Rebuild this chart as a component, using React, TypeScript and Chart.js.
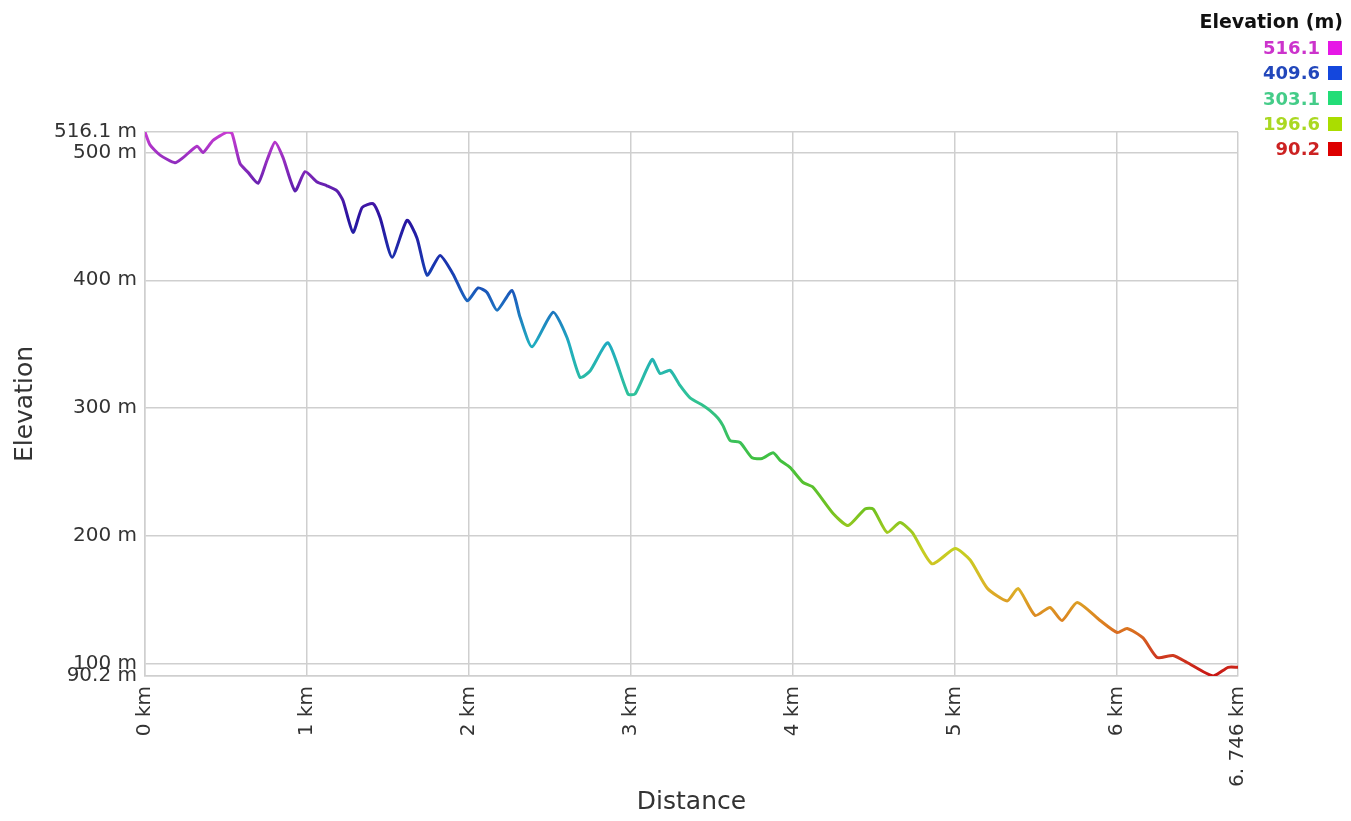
import React, { useEffect, useRef } from "react";
import { Chart, registerables } from "chart.js";

Chart.register(...registerables);

// Distance along the route (km)
const distancesKm = [
  0.0, 0.031, 0.093, 0.185, 0.235, 0.321, 0.358, 0.42, 0.506, 0.537, 0.586, 0.636, 0.698, 0.753,
  0.802, 0.852, 0.926, 0.988, 1.062, 1.123, 1.185, 1.222, 1.284, 1.34, 1.407, 1.451, 1.525, 1.617,
  1.679, 1.741, 1.821, 1.901, 1.988, 2.056, 2.111, 2.173, 2.265, 2.315, 2.389, 2.519, 2.605, 2.685,
  2.747, 2.858, 2.981, 3.025, 3.13, 3.179, 3.241, 3.302, 3.364, 3.444, 3.488, 3.537, 3.568, 3.611,
  3.673, 3.747, 3.809, 3.877, 3.92, 3.981, 4.062, 4.123, 4.247, 4.34, 4.444, 4.494, 4.58, 4.66,
  4.735, 4.858, 5.0, 5.093, 5.198, 5.321, 5.389, 5.494, 5.586, 5.66, 5.753, 5.895, 6.0, 6.062,
  6.16, 6.247, 6.346, 6.432, 6.593, 6.685, 6.746,
];

// Elevation (m)
const elevationsM = [
  516.1, 506, 498, 492, 496, 505, 500, 509.5, 516, 515, 491.5, 484.5, 476, 494,
  508, 496, 470, 485, 477, 474, 470, 462.5, 437.5, 457, 460, 449, 418, 447,
  433, 404, 419.5, 405, 384, 394, 390.5, 376.5, 392, 371, 348, 375, 355, 324,
  329, 351, 311, 311, 338, 327, 329.5, 317.7, 308, 302, 298, 292, 286, 274.6,
  273, 261, 260.5, 265, 259, 253.5, 241.7, 238, 217.5, 208, 221, 221, 202.6, 210.4,
  202.6, 178, 190, 181, 159, 149, 158.7, 137.6, 143.9, 133.7, 147.8, 133.7, 124.3, 127.4,
  120, 104.7, 106.3, 100.8, 90.2, 97, 97,
];

const yTickValues = [90.2, 100, 200, 300, 400, 500, 516.1];
const xTickValues = [0, 1, 2, 3, 4, 5, 6, 6.746];
const xTickLabels = ["0 km", "1 km", "2 km", "3 km", "4 km", "5 km", "6 km", "6. 746 km"];

const legendValues = ["516.1", "409.6", "303.1", "196.6", "90.2"];
const legendTextColors = ["#cc33cc", "#2247bb", "#44cc88", "#aad822", "#cc2222"];
const legendSwatchColors = ["#e617e6", "#1447dd", "#22dd77", "#aadd00", "#dd0000"];

const elevMin = 90.2;
const elevMax = 516.1;

const gradientStops: [number, string][] = [
  [516.1, "#c83cd2"],
  [480, "#7424b4"],
  [450, "#2a12a0"],
  [410, "#1838b0"],
  [380, "#1c6cc0"],
  [350, "#20acc0"],
  [310, "#2ec29a"],
  [260, "#40c040"],
  [220, "#72c220"],
  [190, "#c4d020"],
  [160, "#dcb428"],
  [130, "#dc7c20"],
  [110, "#d04422"],
  [90.2, "#c81414"],
];

const FONT = "'DejaVu Sans', Arial, sans-serif";

export default function App() {
  const ref = useRef<HTMLCanvasElement>(null);

  useEffect(() => {
    const canvas = ref.current!;
    const chart = new Chart(canvas, {
      type: "line",
      data: {
        datasets: [
          {
            data: distancesKm.map((d, i) => ({ x: d, y: elevationsM[i] })),
            borderColor: (c: any) => {
              const ch = c.chart;
              if (!ch.chartArea) return "#888";
              const ys = ch.scales.y;
              const top = ys.getPixelForValue(elevMax);
              const bottom = ys.getPixelForValue(elevMin);
              const g = ch.ctx.createLinearGradient(0, top, 0, bottom);
              gradientStops.forEach(([v, col]) => {
                const f = Math.min(1, Math.max(0, (elevMax - v) / (elevMax - elevMin)));
                g.addColorStop(f, col);
              });
              return g;
            },
            borderWidth: 3,
            pointRadius: 0,
            tension: 0.2,
            fill: false,
          },
        ],
      },
      options: {
        animation: false,
        responsive: false,
        devicePixelRatio: 1,
        layout: { padding: { top: 132, right: 113, left: 0, bottom: 0 } },
        plugins: { legend: { display: false }, tooltip: { enabled: false } },
        scales: {
          x: {
            type: "linear",
            min: 0,
            max: 6.746,
            afterBuildTicks: (s: any) => {
              s.ticks = xTickValues.map((v) => ({ value: v }));
            },
            afterFit: (s: any) => {
              s.height = 145;
            },
            ticks: {
              autoSkip: false,
              minRotation: 90,
              maxRotation: 90,
              padding: 10,
              color: "#333",
              font: { family: FONT, size: 20 },
              callback: (v: any) => {
                const i = xTickValues.indexOf(Number(v));
                return i >= 0 ? xTickLabels[i] : "";
              },
            },
            grid: { color: "#cfcfcf", lineWidth: 1.5, drawTicks: false },
            border: { color: "#cfcfcf", width: 1.5 },
            title: {
              display: true,
              text: "Distance",
              color: "#333",
              font: { family: FONT, size: 25 },
              padding: { top: 0, bottom: 4 },
            },
          },
          y: {
            type: "linear",
            min: elevMin,
            max: elevMax,
            afterBuildTicks: (s: any) => {
              s.ticks = yTickValues.map((v) => ({ value: v }));
            },
            afterFit: (s: any) => {
              s.width = 145;
            },
            ticks: {
              autoSkip: false,
              padding: 8,
              color: "#333",
              font: { family: FONT, size: 20 },
              callback: (v: any) => `${v} m`,
            },
            grid: { color: "#cfcfcf", lineWidth: 1.5, drawTicks: false },
            border: { color: "#cfcfcf", width: 1.5 },
            title: {
              display: true,
              text: "Elevation",
              color: "#333",
              font: { family: FONT, size: 25 },
              padding: { top: 10, bottom: 0 },
            },
          },
        },
      },
    });
    return () => chart.destroy();
  }, []);

  return (
    <div style={{ position: "fixed", left: 0, top: 0, width: 1351, height: 821, background: "#fff" }}>
      <canvas ref={ref} width={1351} height={821} style={{ width: 1351, height: 821, display: "block" }} />
      <div
        style={{
          position: "absolute",
          right: 8,
          top: 8,
          fontFamily: FONT,
          fontWeight: "bold",
          textAlign: "right",
        }}
      >
        <div style={{ fontSize: 19, lineHeight: "27px", color: "#111" }}>Elevation (m)</div>
        {legendValues.map((v, i) => (
          <div
            key={v}
            style={{
              display: "flex",
              justifyContent: "flex-end",
              alignItems: "center",
              height: 25.3,
              fontSize: 18,
            }}
          >
            <span style={{ color: legendTextColors[i] }}>{v}</span>
            <span
              style={{
                display: "inline-block",
                width: 14,
                height: 14,
                marginLeft: 8,
                marginRight: 1,
                background: legendSwatchColors[i],
              }}
            />
          </div>
        ))}
      </div>
    </div>
  );
}
